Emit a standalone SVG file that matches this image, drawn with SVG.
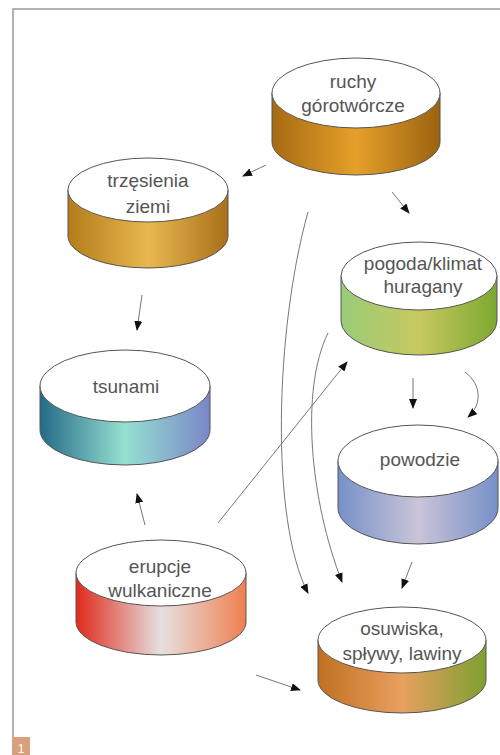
<svg xmlns="http://www.w3.org/2000/svg" width="500" height="755" viewBox="0 0 500 755">
<defs>
<linearGradient id="gRuchy" x1="0" y1="0" x2="1" y2="0"><stop offset="0" stop-color="#a86a12"/><stop offset="0.5" stop-color="#e4a02a"/><stop offset="1" stop-color="#9c6210"/></linearGradient>
<linearGradient id="gTrz" x1="0" y1="0" x2="1" y2="0"><stop offset="0" stop-color="#b47c1a"/><stop offset="0.5" stop-color="#e8b850"/><stop offset="1" stop-color="#a8701a"/></linearGradient>
<linearGradient id="gPog" x1="0" y1="0" x2="1" y2="0"><stop offset="0" stop-color="#98cc78"/><stop offset="0.5" stop-color="#c8c860"/><stop offset="1" stop-color="#7ca830"/></linearGradient>
<linearGradient id="gTsu" x1="0" y1="0" x2="1" y2="0"><stop offset="0" stop-color="#246a88"/><stop offset="0.5" stop-color="#96e0d0"/><stop offset="1" stop-color="#7a86c8"/></linearGradient>
<linearGradient id="gPow" x1="0" y1="0" x2="1" y2="0"><stop offset="0" stop-color="#7690c8"/><stop offset="0.5" stop-color="#cac4d8"/><stop offset="1" stop-color="#7690c8"/></linearGradient>
<linearGradient id="gEru" x1="0" y1="0" x2="1" y2="0"><stop offset="0" stop-color="#e02a1c"/><stop offset="0.5" stop-color="#e6e0e0"/><stop offset="1" stop-color="#f08050"/></linearGradient>
<linearGradient id="gOsu" x1="0" y1="0" x2="1" y2="0"><stop offset="0" stop-color="#c07020"/><stop offset="0.5" stop-color="#e8a060"/><stop offset="1" stop-color="#7ea030"/></linearGradient>
<marker id="ah" markerUnits="userSpaceOnUse" markerWidth="10" markerHeight="8" refX="9" refY="4" orient="auto"><path d="M0,0 L10,4 L0,8 Z" fill="#111"/></marker>
<style>
.side{stroke:#555;stroke-width:1}
.top{fill:#fff;stroke:#555;stroke-width:1}
.lbl{font-family:"Liberation Sans",Arial,sans-serif;font-size:19px;fill:#555;text-anchor:middle}
.con{fill:none;stroke:#777;stroke-width:1;marker-end:url(#ah)}
</style>
</defs>
<rect width="500" height="755" fill="#fff"/>
<path d="M13,737 L13,9 L500,9" fill="none" stroke="#999" stroke-width="1.5"/>
<rect x="12" y="737" width="18" height="18" fill="#d9a07e"/>
<text x="21" y="753" font-family="Liberation Sans,Arial,sans-serif" font-size="12" fill="#fff" text-anchor="middle">1</text>

<g id="connectors">
<line class="con" x1="266" y1="165" x2="243" y2="176"/>
<line class="con" x1="392" y1="192" x2="409" y2="213"/>
<line class="con" x1="142" y1="295" x2="137" y2="330"/>
<line class="con" x1="413" y1="378" x2="413" y2="408"/>
<path class="con" d="M465,372 C482,385 482,405 468,417"/>
<path class="con" d="M308,212 C275,330 270,520 308,593"/>
<path class="con" d="M328,333 C300,390 310,500 342,582"/>
<line class="con" x1="218" y1="523" x2="347" y2="362"/>
<line class="con" x1="145" y1="525" x2="137" y2="494"/>
<line class="con" x1="256" y1="675" x2="300" y2="690"/>
<line class="con" x1="412" y1="562" x2="402" y2="588"/>
</g>

<g id="ruchy">
<path class="side" fill="url(#gRuchy)" d="M272,93 L272,142 A84,33 0 0 0 440,142 L440,93 Z"/>
<ellipse class="top" cx="356" cy="93" rx="84" ry="35"/>
<text class="lbl" x="353" y="88">ruchy</text>
<text class="lbl" x="353" y="112">górotwórcze</text>
</g>

<g id="trzesienia">
<path class="side" fill="url(#gTrz)" d="M68,190 L68,236 A80,32 0 0 0 228,236 L228,190 Z"/>
<ellipse class="top" cx="148" cy="190" rx="80" ry="32"/>
<text class="lbl" x="148" y="187">trzęsienia</text>
<text class="lbl" x="148" y="213">ziemi</text>
</g>

<g id="pogoda">
<path class="side" fill="url(#gPog)" d="M341,276 L341,321 A78,34 0 0 0 497,321 L497,276 Z"/>
<ellipse class="top" cx="419" cy="276" rx="78" ry="34"/>
<text class="lbl" x="423" y="270">pogoda/klimat</text>
<text class="lbl" x="423" y="293">huragany</text>
</g>

<g id="tsunami">
<path class="side" fill="url(#gTsu)" d="M40,386 L40,430 A85,35 0 0 0 210,430 L210,386 Z"/>
<ellipse class="top" cx="125" cy="386" rx="85" ry="36"/>
<text class="lbl" x="126" y="393">tsunami</text>
</g>

<g id="powodzie">
<path class="side" fill="url(#gPow)" d="M338,461 L338,508 A80,36 0 0 0 498,508 L498,461 Z"/>
<ellipse class="top" cx="418" cy="461" rx="80" ry="36"/>
<text class="lbl" x="420" y="466">powodzie</text>
</g>

<g id="erupcje">
<path class="side" fill="url(#gEru)" d="M76,573 L76,622 A85,33 0 0 0 246,622 L246,573 Z"/>
<ellipse class="top" cx="161" cy="573" rx="85" ry="33"/>
<text class="lbl" x="160" y="573">erupcje</text>
<text class="lbl" x="160" y="597">wulkaniczne</text>
</g>

<g id="osuwiska">
<path class="side" fill="url(#gOsu)" d="M318,640 L318,680 A84,33 0 0 0 486,680 L486,640 Z"/>
<ellipse class="top" cx="402" cy="640" rx="84" ry="33"/>
<text class="lbl" x="402" y="635">osuwiska,</text>
<text class="lbl" x="402" y="660">spływy, lawiny</text>
</g>
</svg>
